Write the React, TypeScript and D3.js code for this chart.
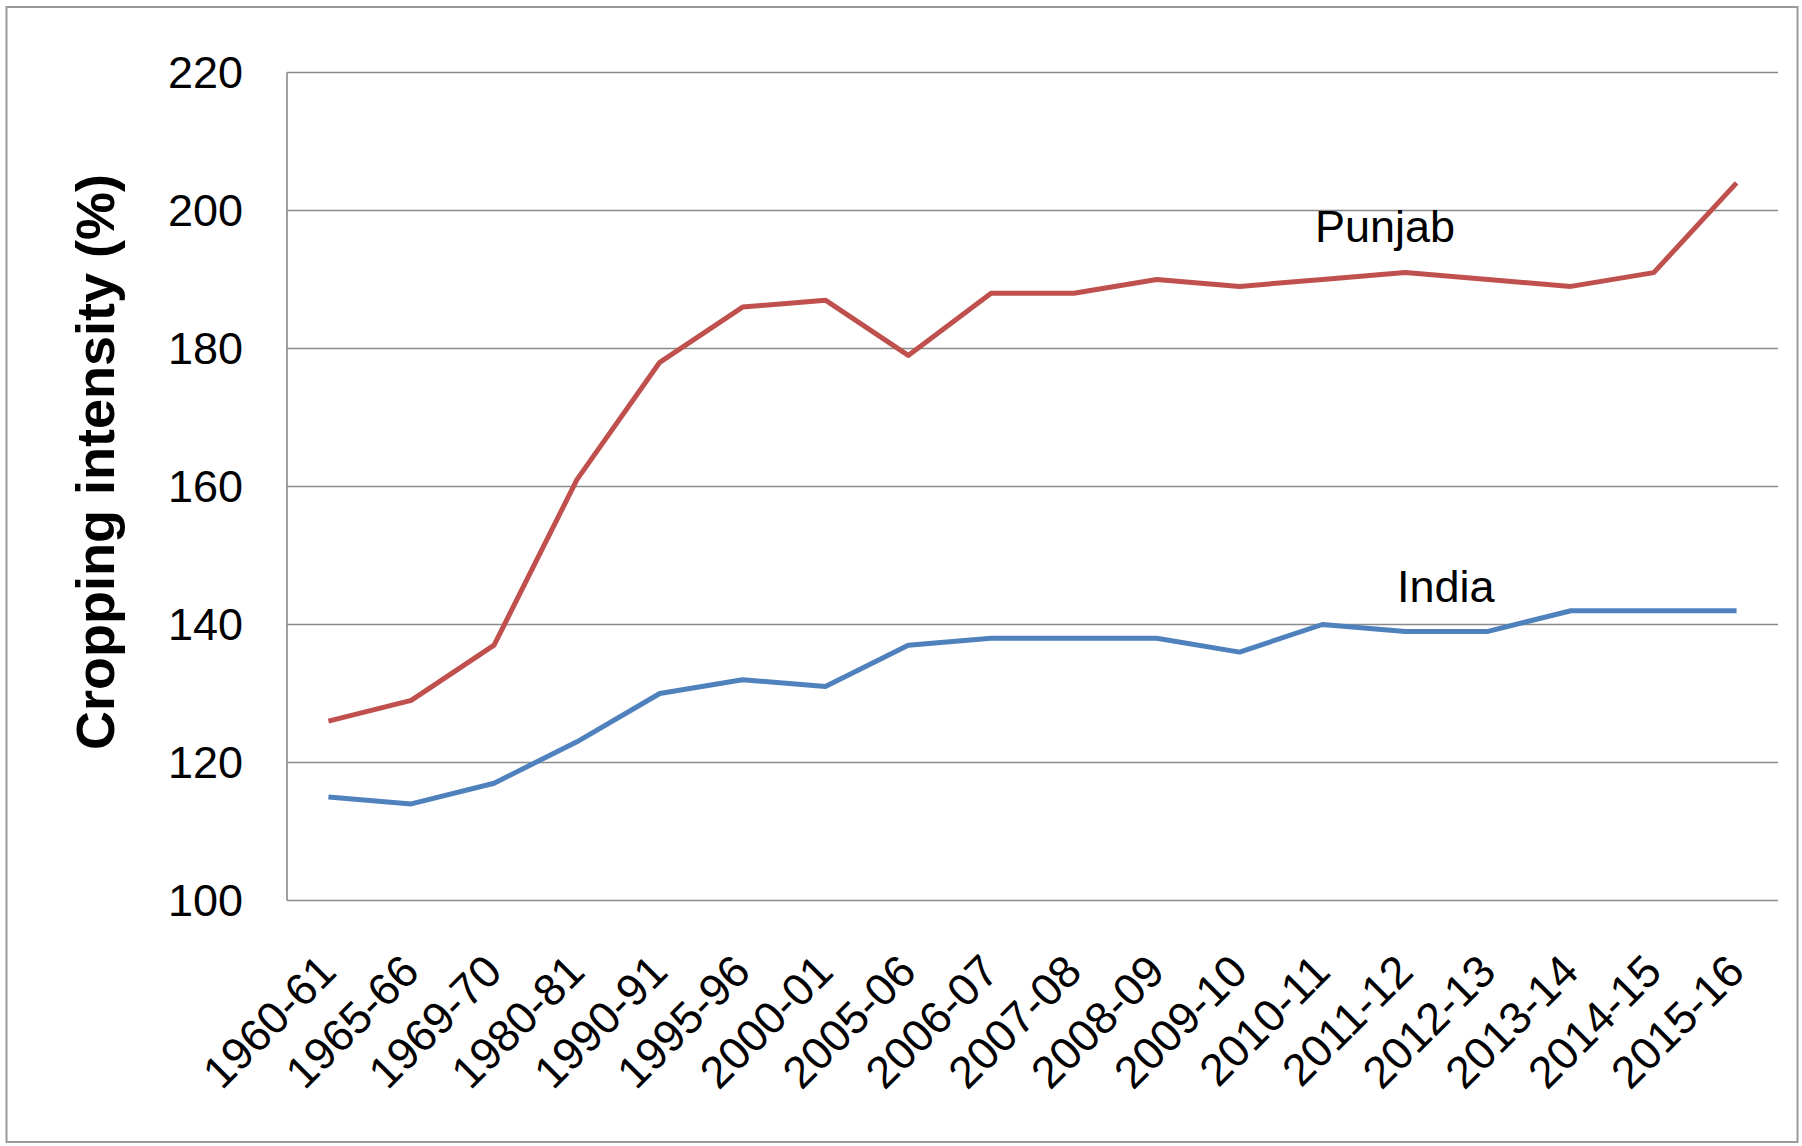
import React from "react";
import { scaleBand, scaleLinear, line } from "d3";

const years = [
  "1960-61", "1965-66", "1969-70", "1980-81", "1990-91", "1995-96",
  "2000-01", "2005-06", "2006-07", "2007-08", "2008-09", "2009-10",
  "2010-11", "2011-12", "2012-13", "2013-14", "2014-15", "2015-16"
];

const punjab = [126, 129, 137, 161, 178, 186, 187, 179, 188, 188, 190, 189, 190, 191, 190, 189, 191, 204];
const india = [115, 114, 117, 123, 130, 132, 131, 137, 138, 138, 138, 136, 140, 139, 139, 142, 142, 142];

const yTicks = [100, 120, 140, 160, 180, 200, 220];

const W = 1802;
const H = 1146;
const font = "'Liberation Sans', Arial, sans-serif";

export default function App() {
  const left = 287;
  const right = 1778;
  const top = 72.5;
  const bottom = 900.5;

  const x = scaleBand().domain(years).range([left, right]).padding(0);
  const y = scaleLinear().domain([100, 220]).range([bottom, top]);
  const cx = (d: string) => x(d)! + x.bandwidth() / 2;

  const path = line<number>()
    .x((_, i) => cx(years[i]))
    .y((v) => y(v));

  return (
    <div style={{ position: "absolute", left: 0, top: 0 }}>
      <svg width={W} height={H} style={{ display: "block", background: "#fff" }}>
        {/* outer frame */}
        <rect x={6.5} y={7} width={1791} height={1135} fill="none" stroke="#9a9a9a" strokeWidth={2} />

        {/* grid */}
        {yTicks.map((t) => (
          <line key={t} x1={left} x2={right} y1={y(t)} y2={y(t)} stroke="#8a8a8a" strokeWidth={1.6} />
        ))}
        <line x1={left} x2={left} y1={top} y2={bottom} stroke="#8a8a8a" strokeWidth={1.6} />

        {/* y tick labels */}
        {yTicks.map((t) => (
          <text key={t} x={243} y={y(t)} dy="0.35em" textAnchor="end" fontFamily={font} fontSize={45} fill="#000">
            {t}
          </text>
        ))}

        {/* y title */}
        <text
          transform="translate(114,462) rotate(-90)"
          textAnchor="middle"
          fontFamily={font}
          fontSize={54}
          fontWeight="bold"
          fill="#000"
        >
          Cropping intensity (%)
        </text>

        {/* x labels */}
        {years.map((d) => (
          <text
            key={d}
            transform={`translate(${cx(d) - 1},963) rotate(-45)`}
            dy="0.35em"
            textAnchor="end"
            fontFamily={font}
            fontSize={45}
            fill="#000"
          >
            {d}
          </text>
        ))}

        {/* series */}
        <path d={path(punjab)!} fill="none" stroke="#C0504D" strokeWidth={5} strokeLinejoin="round" />
        <path d={path(india)!} fill="none" stroke="#4F81BD" strokeWidth={5} strokeLinejoin="round" />

        <text x={1315} y={242} fontFamily={font} fontSize={45} fill="#000">Punjab</text>
        <text x={1397} y={602} fontFamily={font} fontSize={45} fill="#000">India</text>
      </svg>
    </div>
  );
}
